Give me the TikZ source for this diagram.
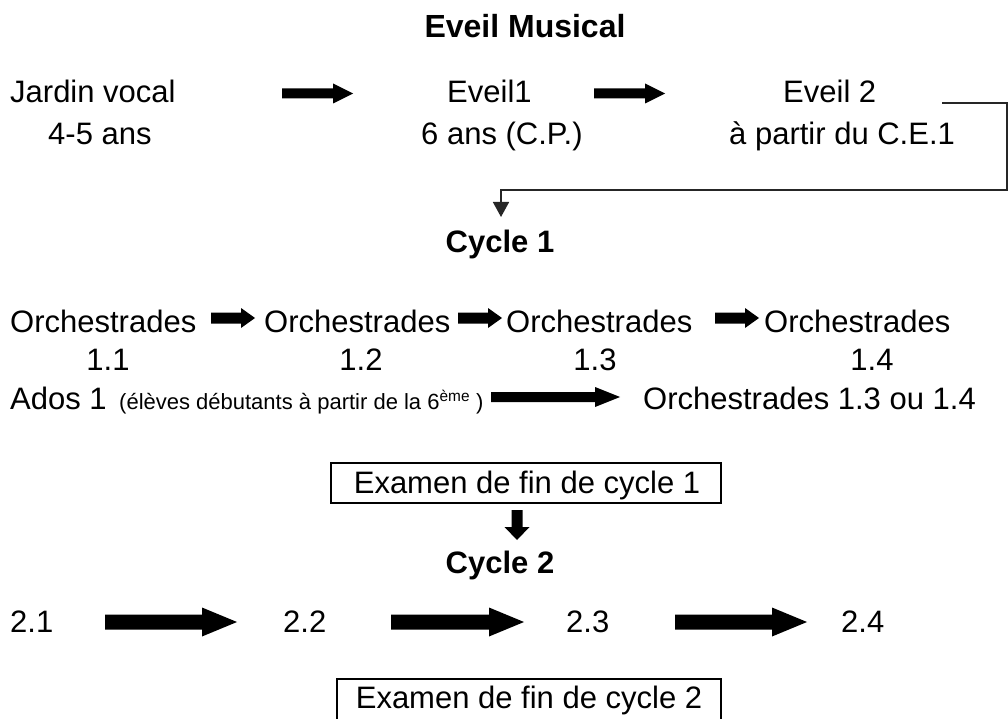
\documentclass[tikz,border=0pt]{standalone}
\usepackage{fontspec}
\setmainfont{Liberation Sans}
\usetikzlibrary{arrows.meta}
\tikzset{
  txt/.style={inner sep=0pt, font=\fontsize{31}{37}\selectfont},
  btxt/.style={inner sep=0pt, font=\fontsize{31}{37}\selectfont\bfseries},
  smalltxt/.style={inner sep=0pt, font=\fontsize{22}{26}\selectfont},
  conn/.style={line width=1.6pt, draw=black!85},
  exambox/.style={draw=black, line width=1.8pt},
}
\newcommand\barr[6]{\fill (#1,{#3-#4}) -- ({#2-#5},{#3-#4}) -- ({#2-#5},{#3-#6}) -- (#2,#3) -- ({#2-#5},{#3+#6}) -- ({#2-#5},{#3+#4}) -- (#1,{#3+#4}) -- cycle;}
\newcommand\darr[6]{\fill ({#1-#4},#2) -- ({#1-#4},{#3-#5}) -- ({#1-#6},{#3-#5}) -- (#1,#3) -- ({#1+#6},{#3-#5}) -- ({#1+#4},{#3-#5}) -- ({#1+#4},#2) -- cycle;}
\begin{document}
\begin{tikzpicture}[x=1pt,y=-1pt]
\useasboundingbox (0,0) rectangle (1008,719);
\fill[white] (0,0) rectangle (1008,719);
\clip (0,0) rectangle (1008,719);
% title
\node[btxt, font=\fontsize{32}{38}\selectfont\bfseries, anchor=base] (title) at (525,38) {Eveil Musical};
% row 1
\node[txt, anchor=base west] (jardin) at (10,103) {Jardin vocal};
\node[txt, anchor=base west] (jardinage) at (48,145) {4-5 ans};
\node[txt, anchor=base west] (eveil1) at (447,103) {Eveil1};
\node[txt, anchor=base west] (eveil1age) at (421,145) {6 ans (C.P.)};
\node[txt, anchor=base west] (eveil2) at (783,103) {Eveil 2};
\node[txt, anchor=base west] (eveil2age) at (729,145) {à partir du C.E.1};
\barr{282}{353}{93.5}{5}{20}{10}
\barr{594}{665}{93.5}{5}{20}{10}
% connector to cycle 1
\coordinate (c0) at (942,103);
\coordinate (c1) at (1007,103);
\coordinate (c2) at (1007,190);
\coordinate (c3) at (501,190);
\coordinate (c4) at (501,217);
\draw[conn, -{Triangle[length=15pt,width=16pt]}] (c0) -- (c1) -- (c2) -- (c3) -- (c4);
\node[btxt, anchor=base] (cycle1) at (500,252) {Cycle 1};
% orchestrades
\node[txt, anchor=base west] (o1) at (10,332) {Orchestrades};
\node[txt, anchor=base west] (o2) at (264,332) {Orchestrades};
\node[txt, anchor=base west] (o3) at (506,332) {Orchestrades};
\node[txt, anchor=base west] (o4) at (764,332) {Orchestrades};
\barr{211}{255}{318}{5.5}{14}{10}
\barr{458}{502}{318}{5.5}{14}{10}
\barr{715}{759}{318}{5.5}{14}{10}
\node[txt, anchor=base] (n11) at (108,370) {1.1};
\node[txt, anchor=base] (n12) at (361,370) {1.2};
\node[txt, anchor=base] (n13) at (595,370) {1.3};
\node[txt, anchor=base] (n14) at (872,370) {1.4};
% ados
\node[txt, anchor=base west] (ados) at (10,409) {Ados 1};
\node[smalltxt, anchor=base west] (adosnote) at (119,409) {(élèves débutants à partir de la 6\textsuperscript{ème} )};
\barr{491}{620}{397}{5}{25}{10}
\node[txt, anchor=base west] (adosdest) at (643,409) {Orchestrades 1.3 ou 1.4};
% exam 1
\draw[exambox] (331,463) rectangle (721,503);
\node[txt, anchor=base] (exam1) at (527,493) {Examen de fin de cycle 1};
\darr{517}{510}{540}{5.5}{13}{12.5}
\node[btxt, anchor=base] (cycle2) at (500,573) {Cycle 2};
% row cycle 2
\node[txt, anchor=base west] (n21) at (10,632) {2.1};
\node[txt, anchor=base west] (n22) at (283,632) {2.2};
\node[txt, anchor=base west] (n23) at (566,632) {2.3};
\node[txt, anchor=base west] (n24) at (841,632) {2.4};
\barr{105}{237}{622}{7.5}{35}{14.5}
\barr{391}{524}{622}{7.5}{35}{14.5}
\barr{675}{807}{622}{7.5}{35}{14.5}
% exam 2
\draw[exambox] (337,679) rectangle (721,740);
\node[txt, anchor=base] (exam2) at (529,708) {Examen de fin de cycle 2};
\end{tikzpicture}
\end{document}
